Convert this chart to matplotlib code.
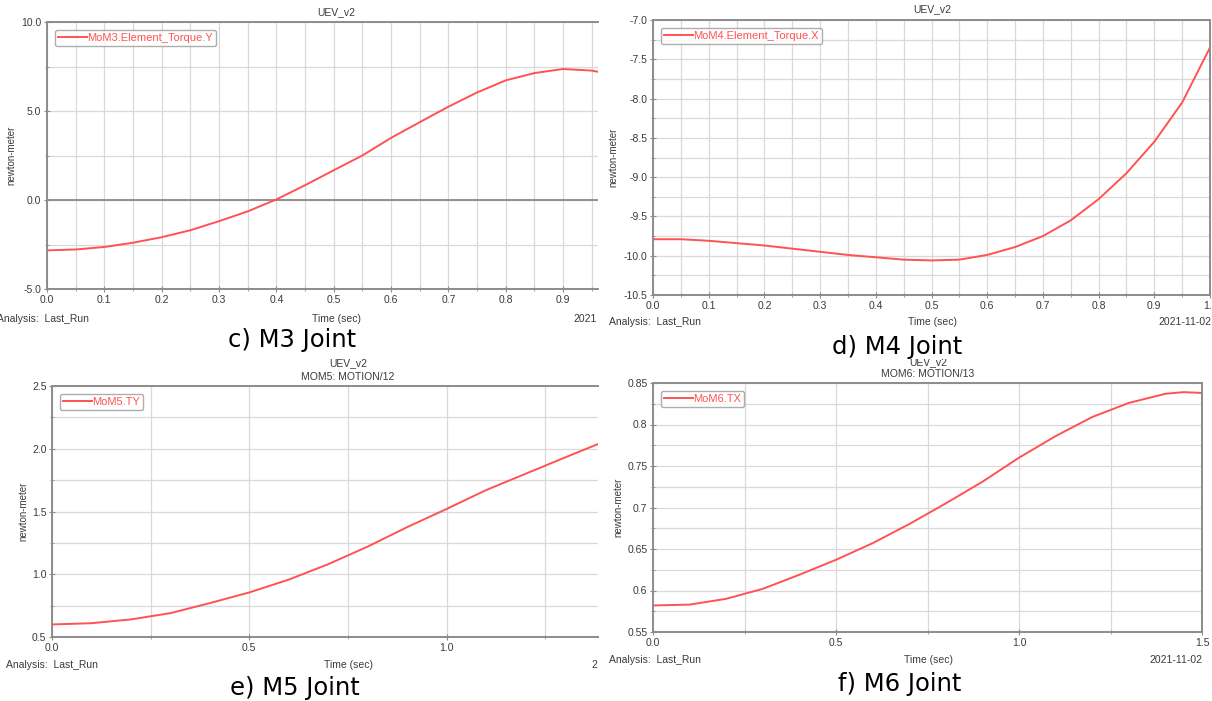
import matplotlib
matplotlib.use("Agg")
import matplotlib.pyplot as plt
from matplotlib.ticker import MultipleLocator, FormatStrFormatter, FuncFormatter

plt.rcParams['axes.unicode_minus'] = False
plt.rcParams['font.family'] = ['Liberation Sans', 'DejaVu Sans']

# ---------------- data ----------------
t_m3 = [0.0, 0.05, 0.1, 0.15, 0.2, 0.25, 0.3, 0.35, 0.4, 0.45, 0.5, 0.55, 0.6,
        0.65, 0.7, 0.75, 0.8, 0.85, 0.9, 0.95, 0.97]
y_m3 = [-2.83, -2.78, -2.64, -2.40, -2.09, -1.70, -1.19, -0.64, 0.03, 0.83, 1.67,
        2.50, 3.49, 4.37, 5.24, 6.04, 6.72, 7.13, 7.36, 7.27, 7.15]

t_m4 = [0.0, 0.05, 0.1, 0.15, 0.2, 0.25, 0.3, 0.35, 0.4, 0.45, 0.5, 0.55, 0.6,
        0.65, 0.7, 0.75, 0.8, 0.85, 0.9, 0.95, 1.0]
y_m4 = [-9.79, -9.79, -9.81, -9.84, -9.87, -9.91, -9.95, -9.99, -10.02, -10.05,
        -10.06, -10.05, -9.99, -9.89, -9.75, -9.55, -9.28, -8.95, -8.55, -8.05, -7.35]

t_m5 = [0.0, 0.1, 0.2, 0.3, 0.4, 0.5, 0.6, 0.7, 0.8, 0.9, 1.0, 1.1, 1.2, 1.3, 1.39]
y_m5 = [0.60, 0.61, 0.64, 0.69, 0.77, 0.855, 0.957, 1.08, 1.22, 1.375, 1.52,
        1.67, 1.80, 1.93, 2.045]

t_m6 = [0.0, 0.1, 0.2, 0.3, 0.4, 0.5, 0.6, 0.7, 0.8, 0.9, 1.0, 1.1, 1.2, 1.3,
        1.4, 1.45, 1.5]
y_m6 = [0.582, 0.583, 0.590, 0.602, 0.619, 0.637, 0.657, 0.680, 0.705, 0.731,
        0.760, 0.786, 0.809, 0.826, 0.837, 0.839, 0.838]

labels = ["MoM3.Element_Torque.Y", "MoM4.Element_Torque.X", "MoM5.TY", "MoM6.TX"]
captions = ["c) M3 Joint", "d) M4 Joint", "e) M5 Joint", "f) M6 Joint"]

# ---------------- figure ----------------
W, H = 1212, 701
fig = plt.figure(figsize=(W / 100, H / 100), dpi=100)

RED = '#ff5252'
GRID = '#d9d9d9'
SPINE = '#8c8c8c'
TXT = '#3a3a3a'


def px_axes(l, r, t, b):
    return fig.add_axes([l / W, 1 - b / H, (r - l) / W, (b - t) / H])


def ftext(x, y, s, **kw):
    return fig.text(x / W, 1 - y / H, s, **kw)


def style(ax, xmaj, xmin, ymaj, ymin, yfmt, xfmt='%.1f', right_spine=True):
    ax.xaxis.set_major_locator(MultipleLocator(xmaj))
    ax.xaxis.set_minor_locator(MultipleLocator(xmin))
    ax.yaxis.set_major_locator(MultipleLocator(ymaj))
    ax.yaxis.set_minor_locator(MultipleLocator(ymin))
    ax.xaxis.set_major_formatter(FormatStrFormatter(xfmt))
    ax.yaxis.set_major_formatter(yfmt)
    ax.grid(True, which='both', color=GRID, lw=0.9)
    ax.set_axisbelow(True)
    for s in ['left', 'bottom', 'top', 'right']:
        ax.spines[s].set_color(SPINE)
        ax.spines[s].set_linewidth(1.4)
    if not right_spine:
        ax.spines['right'].set_visible(False)
    ax.tick_params(which='both', direction='inout', color=SPINE, labelsize=7.5,
                   labelcolor=TXT, pad=2)
    ax.tick_params(which='major', length=4)
    ax.tick_params(which='minor', length=3)
    ax.set_ylabel('newton-meter', fontsize=7, color=TXT, labelpad=4)


def add_legend(ax, label):
    leg = ax.legend([label], loc='upper left', fontsize=8, frameon=True,
                    fancybox=True, edgecolor='#9a9a9a', handlelength=2.6,
                    handletextpad=0.0, borderpad=0.3, borderaxespad=0.7,
                    labelcolor=RED)
    leg.get_frame().set_linewidth(1.0)


gfmt = FuncFormatter(lambda v, p: ('%g' % round(v, 3)))

# ---- panel c ----
ax = px_axes(47, 598, 22, 289)
ax.plot(t_m3, y_m3, color=RED, lw=1.4)
ax.axhline(0, color='#8a8a8a', lw=1.3, zorder=1)
ax.set_xlim(0, 0.961)
ax.set_ylim(-5, 10)
style(ax, 0.1, 0.05, 5, 2.5, FormatStrFormatter('%.1f'), right_spine=False)
ax.yaxis.set_label_coords(-0.056, 0.5)
add_legend(ax, labels[0])
ftext(336, 12, 'UEV_v2', fontsize=7.5, color=TXT, ha='center', va='center')
ftext(-3, 319, 'Analysis:  Last_Run', fontsize=7.5, color=TXT, ha='left', va='center')
ftext(336, 319, 'Time (sec)', fontsize=7.5, color=TXT, ha='center', va='center')
ftext(597, 319, '2021', fontsize=7.5, color=TXT, ha='right', va='center')

# ---- panel d ----
ax = px_axes(653, 1210, 20, 295)
ax.plot(t_m4, y_m4, color=RED, lw=1.4)
ax.set_xlim(0, 1.0)
ax.set_ylim(-10.5, -7.0)
style(ax, 0.1, 0.05, 0.5, 0.25, FormatStrFormatter('%.1f'))
ax.yaxis.set_label_coords(-0.063, 0.5)
add_legend(ax, labels[1])
ftext(932, 9, 'UEV_v2', fontsize=7.5, color=TXT, ha='center', va='center')
ftext(609, 322, 'Analysis:  Last_Run', fontsize=7.5, color=TXT, ha='left', va='center')
ftext(933, 322, 'Time (sec)', fontsize=7.5, color=TXT, ha='center', va='center')
ftext(1211, 322, '2021-11-02', fontsize=7.5, color=TXT, ha='right', va='center')

# ---- panel e ----
ax = px_axes(52, 598, 386, 637)
ax.plot(t_m5, y_m5, color=RED, lw=1.4)
ax.set_xlim(0, 1.384)
ax.set_ylim(0.5, 2.5)
style(ax, 0.5, 0.25, 0.5, 0.25, FormatStrFormatter('%.1f'), right_spine=False)
ax.yaxis.set_label_coords(-0.044, 0.5)
add_legend(ax, labels[2])
ftext(348, 363, 'UEV_v2', fontsize=7.5, color=TXT, ha='center', va='center')
ftext(348, 377, 'MOM5: MOTION/12', fontsize=7.5, color=TXT, ha='center', va='center')
ftext(6, 665, 'Analysis:  Last_Run', fontsize=7.5, color=TXT, ha='left', va='center')
ftext(348, 665, 'Time (sec)', fontsize=7.5, color=TXT, ha='center', va='center')
ftext(597, 665, '2', fontsize=7.5, color=TXT, ha='right', va='center')

# ---- panel f ----
ax = px_axes(653, 1202, 383, 632)
ax.plot(t_m6, y_m6, color=RED, lw=1.4)
ax.set_xlim(0, 1.5)
ax.set_ylim(0.55, 0.85)
style(ax, 0.5, 0.25, 0.05, 0.025, gfmt)
ax.yaxis.set_label_coords(-0.053, 0.5)
add_legend(ax, labels[3])
ftext(928, 362, 'UEV_v2', fontsize=7.5, color=TXT, ha='center', va='center')
ftext(928, 374, 'MOM6: MOTION/13', fontsize=7.5, color=TXT, ha='center', va='center')
ftext(609, 660, 'Analysis:  Last_Run', fontsize=7.5, color=TXT, ha='left', va='center')
ftext(928, 660, 'Time (sec)', fontsize=7.5, color=TXT, ha='center', va='center')
ftext(1149, 660, '2021-11-02', fontsize=7.5, color=TXT, ha='left', va='center')

# ---- captions ----
cap_pos = [(292, 340), (897, 347), (295, 688), (900, 684)]
for (cx, cy), cap in zip(cap_pos, captions):
    ftext(cx, cy, cap, fontsize=17.5, color='black', ha='center', va='center',
          family='DejaVu Sans',
          bbox=dict(facecolor='white', edgecolor='none', pad=0.3), zorder=10)

fig.savefig('out.png', dpi=100)
